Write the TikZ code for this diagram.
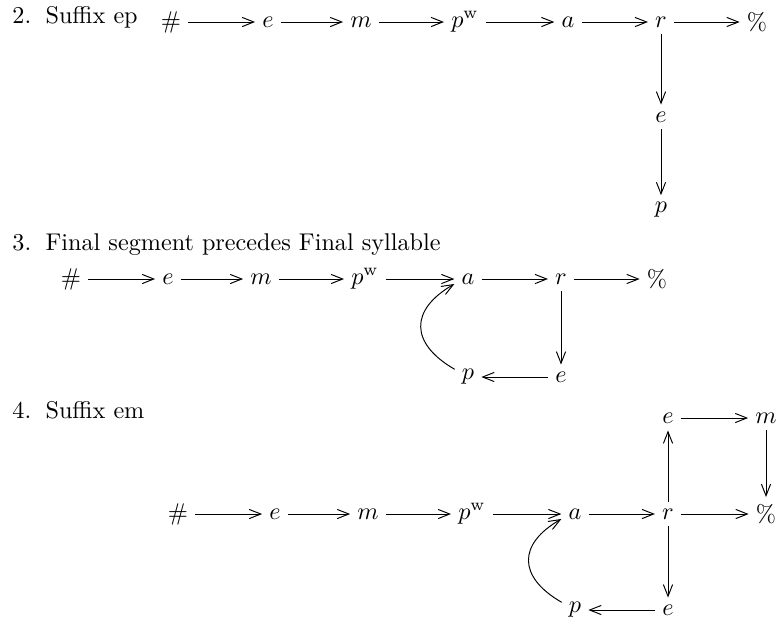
\documentclass[tikz,border=0pt]{standalone}
\usetikzlibrary{arrows.meta}
\begin{document}
\begin{tikzpicture}[x=0.4132pt,y=-0.4132pt,
  v/.style={inner sep=3pt,outer sep=0pt},
  ar/.style={-{Straight Barb[length=4.8pt,width=3.8pt]},line width=0.4pt},
  lab/.style={anchor=base west,inner sep=0pt},
  loop/.style={ar,out=150,in=210,looseness=1.55}]
\useasboundingbox (0,0) rectangle (778,623);

% ---------- 2. Suffix ep ----------
\node[lab] (L2) at (12,23) {2.\hspace{5.9pt}Suffix ep};
\node[v] (h2)  at (171,22) {$\#$};
\node[v] (e2)  at (268,22) {$e$};
\node[v] (m2)  at (361,22) {$m$};
\node[v] (pw2) at (465,22) {$p^{\mathrm{w}}$};
\node[v] (a2)  at (568,22) {$a$};
\node[v] (r2)  at (661,22) {$r$};
\node[v] (pc2) at (757,22) {$\%$};
\node[v] (e2b) at (661,117) {$e$};
\node[v] (p2b) at (661,210) {$p$};
\draw[ar] (h2) -- (e2);
\draw[ar] (e2) -- (m2);
\draw[ar] (m2) -- (pw2);
\draw[ar] (pw2) -- (a2);
\draw[ar] (a2) -- (r2);
\draw[ar] (r2) -- (pc2);
\draw[ar] (r2) -- (e2b);
\draw[ar] (e2b) -- (p2b);

% ---------- 3. Final segment precedes Final syllable ----------
\node[lab] (L3) at (12,250) {3.\hspace{5.9pt}Final segment precedes Final syllable};
\node[v] (h3)  at (71,279) {$\#$};
\node[v] (e3)  at (168,279) {$e$};
\node[v] (m3)  at (261,279) {$m$};
\node[v] (pw3) at (365,279) {$p^{\mathrm{w}}$};
\node[v] (a3)  at (468,279) {$a$};
\node[v] (r3)  at (561,279) {$r$};
\node[v] (pc3) at (657,279) {$\%$};
\node[v] (e3b) at (561,377) {$e$};
\node[v] (p3b) at (468,377) {$p$};
\draw[ar] (h3) -- (e3);
\draw[ar] (e3) -- (m3);
\draw[ar] (m3) -- (pw3);
\draw[ar] (pw3) -- (a3);
\draw[ar] (a3) -- (r3);
\draw[ar] (r3) -- (pc3);
\draw[ar] (r3) -- (e3b);
\draw[ar] (e3b) -- (p3b);
\draw[loop] (p3b.150) to (a3.200);

% ---------- 4. Suffix em ----------
\node[lab] (L4) at (12,418) {4.\hspace{5.9pt}Suffix em};
\node[v] (h4)  at (178,514) {$\#$};
\node[v] (e4)  at (275,514) {$e$};
\node[v] (m4)  at (368,514) {$m$};
\node[v] (pw4) at (472,514) {$p^{\mathrm{w}}$};
\node[v] (a4)  at (575,514) {$a$};
\node[v] (r4)  at (668,514) {$r$};
\node[v] (pc4) at (766,514) {$\%$};
\node[v] (e4t) at (668,418) {$e$};
\node[v] (m4t) at (766,418) {$m$};
\node[v] (e4b) at (668,610) {$e$};
\node[v] (p4b) at (575,610) {$p$};
\draw[ar] (h4) -- (e4);
\draw[ar] (e4) -- (m4);
\draw[ar] (m4) -- (pw4);
\draw[ar] (pw4) -- (a4);
\draw[ar] (a4) -- (r4);
\draw[ar] (r4) -- (pc4);
\draw[ar] (r4) -- (e4t);
\draw[ar] (e4t) -- (m4t);
\draw[ar] (m4t) -- (pc4);
\draw[ar] (r4) -- (e4b);
\draw[ar] (e4b) -- (p4b);
\draw[loop] (p4b.150) to (a4.200);
\end{tikzpicture}
\end{document}
